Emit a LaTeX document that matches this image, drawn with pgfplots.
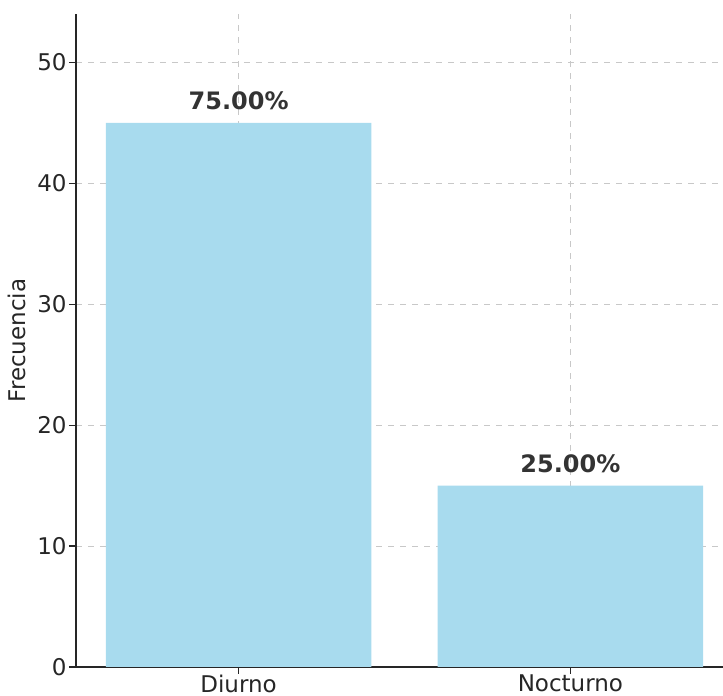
\documentclass[border=0pt]{standalone}
\usepackage{fontspec}
\setmainfont{DejaVu Sans}
\usepackage{pgfplots}
\pgfplotsset{compat=1.18}
\definecolor{barblue}{RGB}{168,219,238}
\definecolor{spine}{RGB}{38,38,38}
\definecolor{labeltext}{RGB}{51,51,51}
\definecolor{gridgray}{RGB}{200,200,200}
\begin{document}
\begin{tikzpicture}
\path[use as bounding box] (-38pt,-14.5pt) rectangle (323.5pt,333.5pt);
\begin{axis}[
  at={(0,0)}, anchor=south west,
  scale only axis,
  width=323.5pt, height=326.5pt,
  xmin=-0.49, xmax=1.46,
  ymin=0, ymax=54,
  axis x line*=bottom, axis y line*=left,
  axis line style={spine, line width=0.8pt},
  xtick={0,1}, xticklabels={Diurno,Nocturno},
  ytick={0,10,20,30,40,50},
  tick align=outside,
  major tick length=3.5pt,
  tick style={spine, line width=0.6pt},
  tick label style={font=\fontsize{11.5}{13}\selectfont, text=spine},
  yticklabel style={xshift=2.3pt},
  xticklabel style={yshift=3pt},
  /pgf/number format/assume math mode=true,
  ylabel={Frecuencia},
  ylabel style={font=\fontsize{11.5}{13}\selectfont, text=spine},
  ylabel shift=-1pt,
  grid=major,
  grid style={gridgray, dashed, line width=0.4pt},
  ybar, bar width=0.8,
  bar shift=0pt,
  nodes near coords,
  point meta=explicit symbolic,
  every node near coord/.append style={font=\bfseries\fontsize{12}{14}\selectfont, text=labeltext, yshift=3pt},
]
\addplot[fill=barblue, draw=none] coordinates {(0,45) [75.00\%] (1,15) [25.00\%]};
\end{axis}
\end{tikzpicture}
\end{document}
